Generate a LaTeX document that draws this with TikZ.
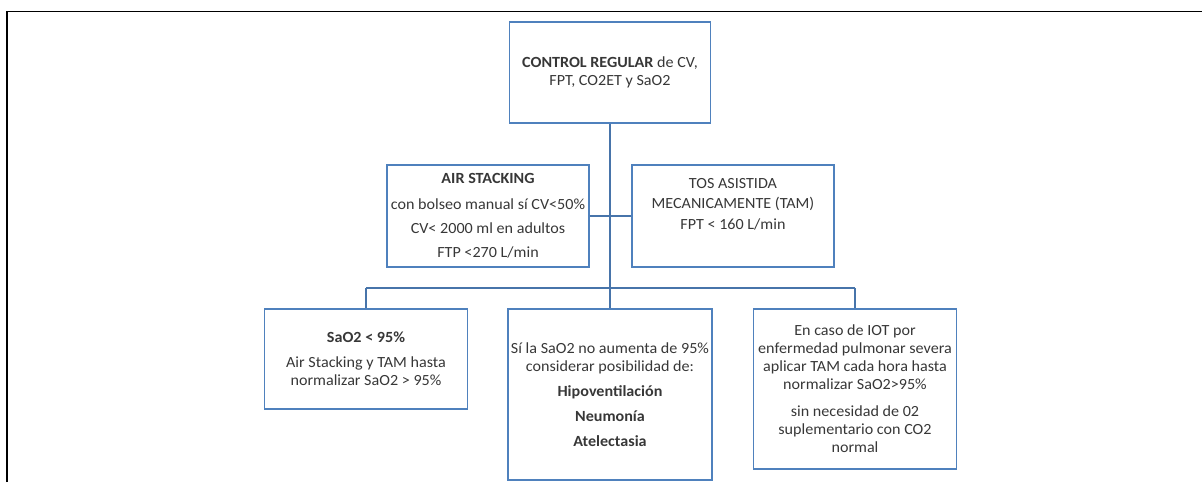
\documentclass[tikz,border=0pt]{standalone}
\usepackage{fontspec}
\setmainfont{Carlito}[FakeStretch=1.04]
\usepackage{tikz}
\definecolor{boxblue}{RGB}{79,129,189}
\definecolor{txtgray}{RGB}{55,55,55}

\begin{document}
\begin{tikzpicture}[x=1pt,y=-1pt,
  box/.style={draw=boxblue,line width=1.6pt,rectangle,align=center,inner sep=2pt,
    text=txtgray,font=\fontsize{15.5}{18}\selectfont},
  link/.style={draw=boxblue!90!black,line width=1.6pt}]
\useasboundingbox (0,0) rectangle (1202,482);
\draw[line width=1.5pt] (7,482) -- (7,11.5) -- (1202,11.5);

\node[box,minimum width=201,minimum height=101] (control) at (610,72.5)
  {\textbf{CONTROL REGULAR} de CV,\\FPT, CO2ET y SaO2};
\node[box,minimum width=202,minimum height=102] (airst) at (488,216)
  {\textbf{AIR STACKING}\\[8pt]con bolseo manual sí CV<50\%\\[6pt]CV< 2000 ml en adultos\\[6pt]FTP <270 L/min};
\node[box,minimum width=202,minimum height=102] (tam) at (733,216)
  {TOS ASISTIDA\\[2pt]MECANICAMENTE (TAM)\\[3pt]FPT < 160 L/min\\\rule{0pt}{22pt}};
\node[box,minimum width=203,minimum height=100] (sato) at (366,359)
  {\textbf{SaO2 < 95\%}\\[7pt]Air Stacking y TAM hasta\\normalizar SaO2 > 95\%};
\node[box,minimum width=204,minimum height=171] (posib) at (610,394.5)
  {Sí la SaO2 no aumenta de 95\%\\considerar posibilidad de:\\[7pt]\textbf{Hipoventilación}\\[7pt]\textbf{Neumonía}\\[7pt]\textbf{Atelectasia}};
\node[box,minimum width=203,minimum height=160] (iot) at (855,389)
  {En caso de IOT por\\enfermedad pulmonar severa\\aplicar TAM cada hora hasta\\normalizar SaO2>95\%\\[9pt]sin necesidad de 02\\suplementario con CO2\\normal};
\coordinate (bus) at (610,288);

\path[link]
(control) edge (posib)
(airst) edge (tam)
(sato.north) edge (sato.north |- bus)
(iot.north) edge (iot.north |- bus)
(sato.north |- bus) edge (iot.north |- bus);
\end{tikzpicture}
\end{document}
